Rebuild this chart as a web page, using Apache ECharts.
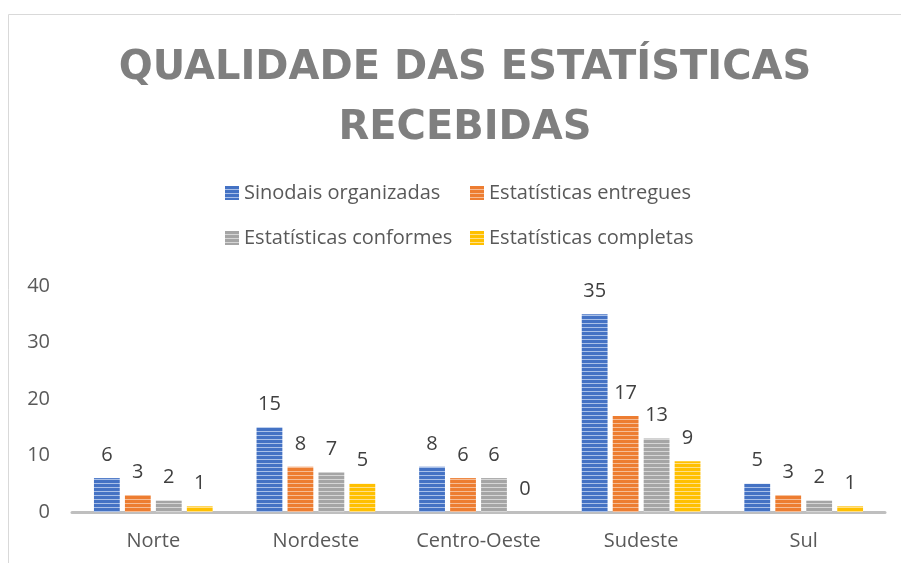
<!DOCTYPE html>
<html>
<head>
<meta charset="utf-8">
<script src="https://cdn.jsdelivr.net/npm/echarts@6/dist/echarts.min.js"></script>
<style>
  html, body { margin: 0; padding: 0; background: #fff; }
  #chart { width: 901px; height: 563px; }
</style>
</head>
<body>
<div id="chart"></div>
<script>
var categories = ['Norte', 'Nordeste', 'Centro-Oeste', 'Sudeste', 'Sul'];
var seriesNames = ['Sinodais organizadas', 'Estatísticas entregues', 'Estatísticas conformes', 'Estatísticas completas'];
var sinodais = [6, 15, 8, 35, 5];
var entregues = [3, 8, 6, 17, 3];
var conformes = [2, 7, 6, 13, 2];
var completas = [1, 5, 0, 9, 1];

var colors = ['#4472c4', '#ed7d31', '#a5a5a5', '#ffc000'];
var lights = ['#a9c0e8', '#f6bd96', '#d6d6d6', '#ffe08a'];

// horizontal stripes like the excel pattern fill
function stripes(c, l) {
    var cv = document.createElement('canvas');
    cv.width = 4;
    cv.height = 4;
    var ctx = cv.getContext('2d');
    ctx.fillStyle = c;
    ctx.fillRect(0, 0, 4, 4);
    ctx.fillStyle = l;
    ctx.fillRect(0, 3, 4, 1);
    return { image: cv, repeat: 'repeat' };
}

var myChart = echarts.init(document.getElementById('chart'));

var values = [sinodais, entregues, conformes, completas];
var series = [];
for (var i = 0; i < values.length; i++) {
    series.push({
        name: seriesNames[i],
        type: 'bar',
        data: values[i],
        barGap: '20%',
        barCategoryGap: '27%',
        itemStyle: { color: stripes(colors[i], lights[i]) },
        label: {
            show: true,
            position: 'top',
            distance: 13,
            color: '#404040',
            fontSize: 20,
            fontFamily: 'Open Sans'
        }
    });
}

var legendPos = [[225, 183], [470, 183], [225, 228], [470, 228]];
var legends = seriesNames.map(function (n, i) {
    return {
        data: [n],
        left: legendPos[i][0],
        top: legendPos[i][1],
        padding: 0,
        itemWidth: 14,
        itemHeight: 14,
        icon: 'rect',
        selectedMode: false,
        textStyle: { color: '#595959', fontSize: 20, fontFamily: 'Open Sans' }
    };
});

var option = {
    animation: false,
    title: {
        text: 'QUALIDADE DAS ESTATÍSTICAS\nRECEBIDAS',
        left: 460,
        textAlign: 'center',
        top: 34,
        textStyle: {
            color: '#7f7f7f',
            fontSize: 40,
            fontWeight: 'bold',
            fontFamily: 'DejaVu Sans',
            lineHeight: 60
        }
    },
    legend: legends,
    graphic: [{
        type: 'rect',
        shape: { x: 8.5, y: 14.5, width: 1000, height: 1000 },
        style: { fill: 'none', stroke: '#d9d9d9', lineWidth: 1 },
        silent: true
    }],
    grid: { left: 72, right: 16, top: 286, bottom: 51 },
    xAxis: {
        type: 'category',
        data: categories,
        axisLine: { lineStyle: { color: '#bfbfbf', width: 3 } },
        axisTick: { show: false },
        axisLabel: { color: '#595959', fontSize: 20, fontFamily: 'Open Sans', margin: 19 }
    },
    yAxis: {
        type: 'value',
        min: 0,
        max: 40,
        interval: 10,
        axisLine: { show: false },
        axisTick: { show: false },
        splitLine: { show: false },
        axisLabel: { color: '#595959', fontSize: 20, fontFamily: 'Open Sans', margin: 22 }
    },
    series: series
};

myChart.setOption(option);
</script>
</body>
</html>
